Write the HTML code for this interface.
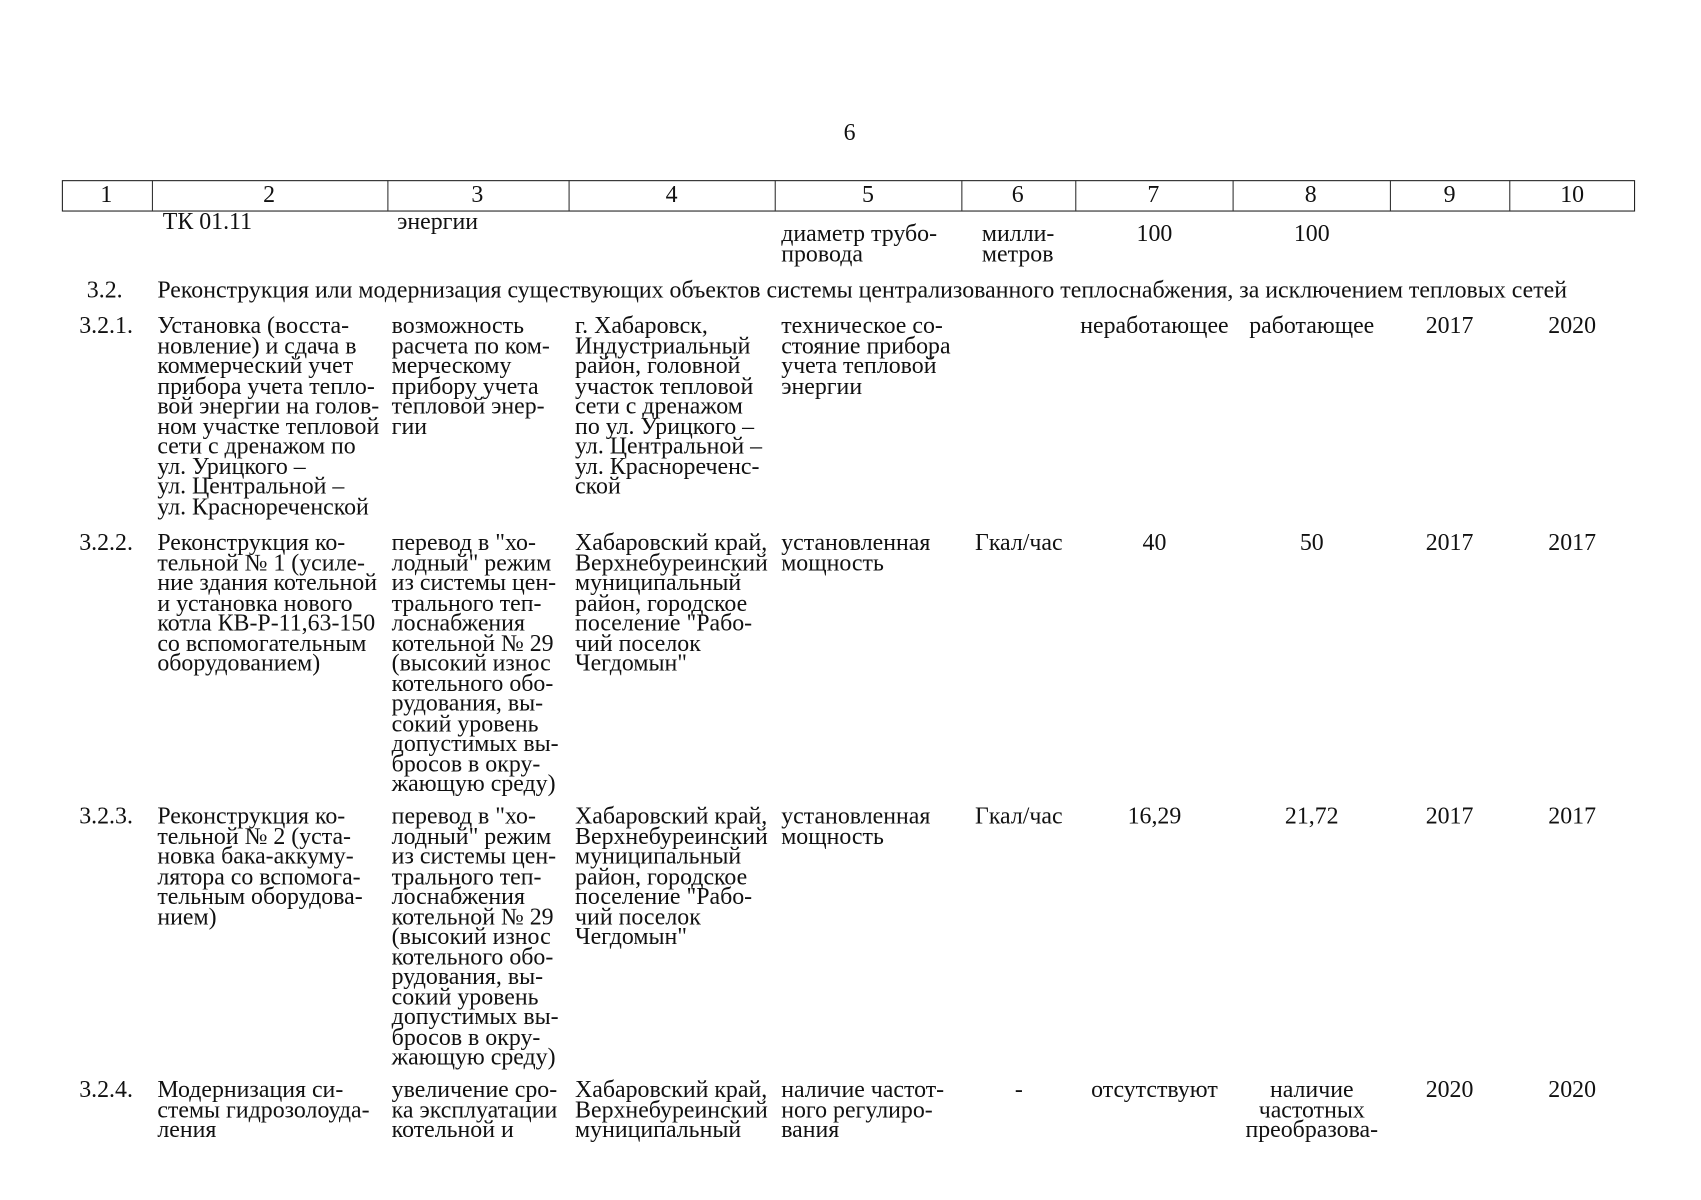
<!DOCTYPE html>
<html><head><meta charset="utf-8">
<style>
html,body{margin:0;padding:0;background:#fff;}
body{width:1701px;height:1200px;overflow:hidden;position:relative;}
#w{position:absolute;left:0;top:0;width:1560px;height:1100px;transform:scale(1.085);transform-origin:0 0;font-family:"Liberation Serif","Noto Serif CJK SC",serif;color:#111;font-size:22px;line-height:18.5px;}
.t{position:absolute;white-space:nowrap;}
.c{position:absolute;white-space:nowrap;transform:translateX(-50%);text-align:center;}
.hd{position:absolute;top:166px;height:29px;left:57px;width:1450px;border:1.5px solid #222;box-sizing:border-box;}
.v{position:absolute;top:166px;height:29px;width:0;border-left:1.2px solid #333;}
</style></head><body><div id="w">
<div class="c" style="left:783px;top:113px">6</div>
<div class="hd"></div>
<div class="v" style="left:140px"></div><div class="v" style="left:357px"></div><div class="v" style="left:524px"></div><div class="v" style="left:714px"></div><div class="v" style="left:886px"></div><div class="v" style="left:991px"></div><div class="v" style="left:1136px"></div><div class="v" style="left:1281px"></div><div class="v" style="left:1391px"></div>
<div class="c" style="left:98px;top:170px">1</div>
<div class="c" style="left:248px;top:170px">2</div>
<div class="c" style="left:440px;top:170px">3</div>
<div class="c" style="left:619px;top:170px">4</div>
<div class="c" style="left:800px;top:170px">5</div>
<div class="c" style="left:938px;top:170px">6</div>
<div class="c" style="left:1063px;top:170px">7</div>
<div class="c" style="left:1208px;top:170px">8</div>
<div class="c" style="left:1336px;top:170px">9</div>
<div class="c" style="left:1449px;top:170px">10</div>

<div class="t" style="left:150px;top:195px">ТК 01.11</div>
<div class="t" style="left:366px;top:195px">энергии</div>
<div class="t" style="left:720px;top:206px">диаметр трубо-<br>провода</div>
<div class="t" style="left:905px;top:206px">милли-<br>метров</div>
<div class="c" style="left:1064px;top:206px">100</div>
<div class="c" style="left:1209px;top:206px">100</div>

<div class="t" style="left:80px;top:258px">3.2.</div>
<div class="t" style="left:145px;top:258px">Реконструкция или модернизация существующих объектов системы централизованного теплоснабжения, за исключением тепловых сетей</div>

<div class="t" style="left:73px;top:291px">3.2.1.</div>
<div class="t" style="left:145px;top:291px">Установка (восста-<br>новление) и сдача в<br>коммерческий учет<br>прибора учета тепло-<br>вой энергии на голов-<br>ном участке тепловой<br>сети с дренажом по<br>ул. Урицкого –<br>ул. Центральной –<br>ул. Краснореченской</div>
<div class="t" style="left:361px;top:291px">возможность<br>расчета по ком-<br>мерческому<br>прибору учета<br>тепловой энер-<br>гии</div>
<div class="t" style="left:530px;top:291px">г. Хабаровск,<br>Индустриальный<br>район, головной<br>участок тепловой<br>сети с дренажом<br>по ул. Урицкого –<br>ул. Центральной –<br>ул. Краснореченс-<br>ской</div>
<div class="t" style="left:720px;top:291px">техническое со-<br>стояние прибора<br>учета тепловой<br>энергии</div>
<div class="c" style="left:1064px;top:291px">неработающее</div>
<div class="c" style="left:1209px;top:291px">работающее</div>
<div class="c" style="left:1336px;top:291px">2017</div>
<div class="c" style="left:1449px;top:291px">2020</div>

<div class="t" style="left:73px;top:491px">3.2.2.</div>
<div class="t" style="left:145px;top:491px">Реконструкция ко-<br>тельной № 1 (усиле-<br>ние здания котельной<br>и установка нового<br>котла КВ-Р-11,63-150<br>со вспомогательным<br>оборудованием)</div>
<div class="t" style="left:361px;top:491px">перевод в "хо-<br>лодный" режим<br>из системы цен-<br>трального теп-<br>лоснабжения<br>котельной № 29<br>(высокий износ<br>котельного обо-<br>рудования, вы-<br>сокий уровень<br>допустимых вы-<br>бросов в окру-<br>жающую среду)</div>
<div class="t" style="left:530px;top:491px">Хабаровский край,<br>Верхнебуреинский<br>муниципальный<br>район, городское<br>поселение "Рабо-<br>чий поселок<br>Чегдомын"</div>
<div class="t" style="left:720px;top:491px">установленная<br>мощность</div>
<div class="c" style="left:939px;top:491px">Гкал/час</div>
<div class="c" style="left:1064px;top:491px">40</div>
<div class="c" style="left:1209px;top:491px">50</div>
<div class="c" style="left:1336px;top:491px">2017</div>
<div class="c" style="left:1449px;top:491px">2017</div>

<div class="t" style="left:73px;top:743px">3.2.3.</div>
<div class="t" style="left:145px;top:743px">Реконструкция ко-<br>тельной № 2 (уста-<br>новка бака-аккуму-<br>лятора со вспомога-<br>тельным оборудова-<br>нием)</div>
<div class="t" style="left:361px;top:743px">перевод в "хо-<br>лодный" режим<br>из системы цен-<br>трального теп-<br>лоснабжения<br>котельной № 29<br>(высокий износ<br>котельного обо-<br>рудования, вы-<br>сокий уровень<br>допустимых вы-<br>бросов в окру-<br>жающую среду)</div>
<div class="t" style="left:530px;top:743px">Хабаровский край,<br>Верхнебуреинский<br>муниципальный<br>район, городское<br>поселение "Рабо-<br>чий поселок<br>Чегдомын"</div>
<div class="t" style="left:720px;top:743px">установленная<br>мощность</div>
<div class="c" style="left:939px;top:743px">Гкал/час</div>
<div class="c" style="left:1064px;top:743px">16,29</div>
<div class="c" style="left:1209px;top:743px">21,72</div>
<div class="c" style="left:1336px;top:743px">2017</div>
<div class="c" style="left:1449px;top:743px">2017</div>

<div class="t" style="left:73px;top:995px">3.2.4.</div>
<div class="t" style="left:145px;top:995px">Модернизация си-<br>стемы гидрозолоуда-<br>ления</div>
<div class="t" style="left:361px;top:995px">увеличение сро-<br>ка эксплуатации<br>котельной и</div>
<div class="t" style="left:530px;top:995px">Хабаровский край,<br>Верхнебуреинский<br>муниципальный</div>
<div class="t" style="left:720px;top:995px">наличие частот-<br>ного регулиро-<br>вания</div>
<div class="c" style="left:939px;top:995px">-</div>
<div class="c" style="left:1064px;top:995px">отсутствуют</div>
<div class="c" style="left:1209px;top:995px">наличие<br>частотных<br>преобразова-</div>
<div class="c" style="left:1336px;top:995px">2020</div>
<div class="c" style="left:1449px;top:995px">2020</div>
</div></body></html>
